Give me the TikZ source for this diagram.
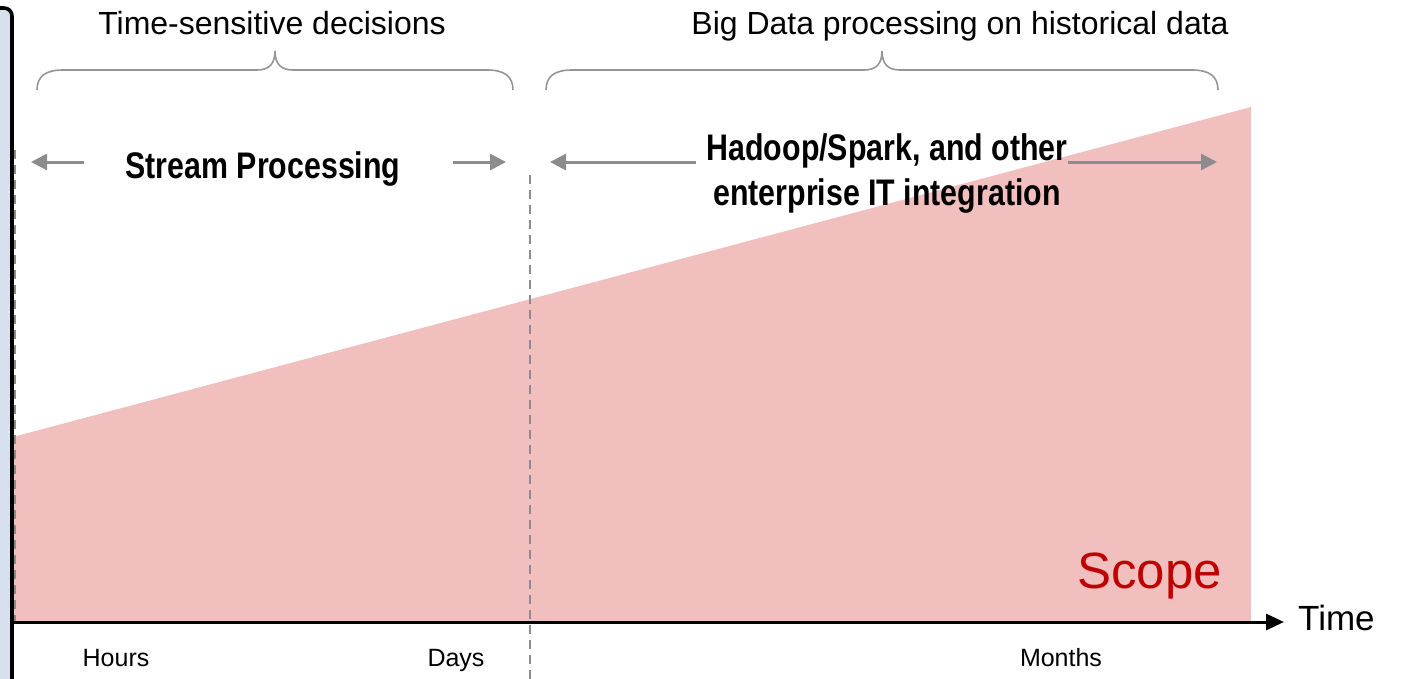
\documentclass[tikz,border=0pt]{standalone}
\usepackage{fontspec}
\setmainfont{Liberation Sans}
\newfontfamily\narrowsans[FakeStretch=0.82]{Liberation Sans}
\usetikzlibrary{arrows.meta}
\definecolor{scopefill}{HTML}{F2BFBF}
\definecolor{scopered}{HTML}{C00000}
\definecolor{guide}{HTML}{8C8C8C}
\definecolor{bracegray}{HTML}{959595}
\definecolor{panelblue}{HTML}{D6E0EE}

% curly brace over a span: left x, tip x, right x
\newcommand\spanbrace[3]{%
  \draw[bracepath] (#1,90) .. controls (#1,76) and (#1+9,70) .. (#1+26,70)
    -- (#2-18,70) .. controls (#2-6,70) and (#2,64) .. (#2,51)
    .. controls (#2,64) and (#2+6,70) .. (#2+18,70)
    -- (#3-26,70) .. controls (#3-9,70) and (#3,76) .. (#3,90);}

\begin{document}
\begin{tikzpicture}[x=1pt,y=-1pt,
  span/.style={draw=guide, line width=3pt, -{Triangle[length=16pt,width=16pt]}},
  bracepath/.style={draw=bracegray, line width=1.6pt},
  divider/.style={draw=guide, line width=2pt, dash pattern=on 9pt off 6pt},
  heading/.style={font=\fontsize{32}{38}\selectfont, inner sep=0pt, anchor=base},
  phase/.style={font=\narrowsans\bfseries\fontsize{37}{44}\selectfont, inner sep=0pt, anchor=base},
  tick/.style={font=\fontsize{25}{30}\selectfont, inner sep=0pt, anchor=base},
]
\useasboundingbox (0,0) rectangle (1405,678);
\clip (0,0) rectangle (1405,678);

% growing scope area
\fill[scopefill] (13,437) -- (1251,107) -- (1251,621) -- (13,621) -- cycle;

% dashed dividers
\draw[divider] (15,150) -- (15,621);
\draw[divider] (530,175) -- (530,690);

% panel edge on the left
\draw[fill=panelblue, line width=3.6pt, rounded corners=8pt] (-40,8) rectangle (12,720);

% time axis
\coordinate (axisstart) at (12,622);
\coordinate (axisend) at (1284,622);
\draw[line width=3pt, -{Triangle[length=18pt,width=16pt]}] (axisstart) -- (axisend);

% braces
\spanbrace{37}{275}{513}
\spanbrace{546}{882}{1218}

% span arrows
\coordinate (s1a) at (84,162);  \coordinate (s1b) at (31,162);
\coordinate (s2a) at (453,162); \coordinate (s2b) at (506,162);
\coordinate (s3a) at (696,162); \coordinate (s3b) at (550,162);
\coordinate (s4a) at (1068,162); \coordinate (s4b) at (1217,162);
\draw[span] (s1a) -- (s1b);
\draw[span] (s2a) -- (s2b);
\draw[span] (s3a) -- (s3b);
\draw[span] (s4a) -- (s4b);

% headings
\node[heading] (hleft) at (272,34) {Time-sensitive decisions};
\node[heading] (hright) at (960,34) {Big Data processing on historical data};

% phase labels
\node[phase] (stream) at (263,178) {Stream Processing};
\node[phase] (hadoopA) at (887,160) {Hadoop/Spark, and other};
\node[phase] (hadoopB) at (887,205) {enterprise IT integration};

% scope and axis labels
\node[font=\fontsize{51}{60}\selectfont, text=scopered, inner sep=0pt, anchor=base east] (scope) at (1222,588) {Scope};
\node[font=\fontsize{35}{42}\selectfont, inner sep=0pt, anchor=base west] (time) at (1298,630) {Time};
\node[tick] (hours) at (116,666) {Hours};
\node[tick] (days) at (456,666) {Days};
\node[tick] (months) at (1061,666) {Months};
\end{tikzpicture}
\end{document}
